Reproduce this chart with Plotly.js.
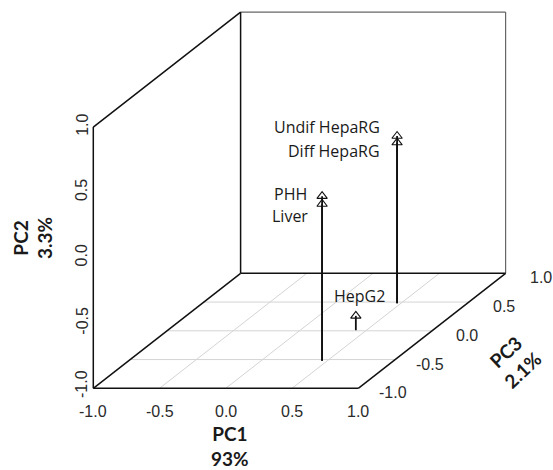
<!DOCTYPE html>
<html>
<head>
<meta charset="utf-8">
<script src="https://cdn.plot.ly/plotly-3.0.1.min.js"></script>
<style>html,body{margin:0;padding:0;background:#fff;}#chart{width:553px;height:470px;}</style>
</head>
<body>
<div id="chart"></div>
<script>
// ---- data ----
const samples = ['Undif HepaRG', 'Diff HepaRG', 'PHH', 'Liver', 'HepG2'];
const pc1 = [0.47, 0.47, 0.46, 0.46, 0.42];
const pc2 = [0.28, 0.23, 0.26, 0.20, -0.89];
const pc3 = [0.48, 0.48, -0.52, -0.52, 0.01];
const tickValues = [-1, -0.5, 0, 0.5, 1];
const tickLabels = ['-1.0', '-0.5', '0.0', '0.5', '1.0'];
const axisTitles = ['PC1<br>93%', 'PC2<br>3.3%', 'PC3<br>2.1%'];

// ---- oblique projection (scatterplot3d style) ----
const X0 = 93.3, Y0 = 388.3, SX = 132.5, SZ = 130.6, DX = 73.65, DY = 57.5;
const px = (x, y) => X0 + (x + 1) * SX + (y + 1) * DX;
const py = (y, z) => Y0 - (z + 1) * SZ - (y + 1) * DY;
function seg(arrX, arrY, a, b) { // a,b = [x,y,z]
  arrX.push(px(a[0], a[1]), px(b[0], b[1]), null);
  arrY.push(py(a[1], a[2]), py(b[1], b[2]), null);
}
const lo = tickValues[0], hi = tickValues[tickValues.length - 1];

// grid on floor
const gx = [], gy = [];
tickValues.slice(1, -1).forEach(v => {
  seg(gx, gy, [v, lo, lo], [v, hi, lo]);
  seg(gx, gy, [lo, v, lo], [hi, v, lo]);
});
// dark box edges
const bx = [], by = [];
seg(bx, by, [lo, lo, lo], [lo, lo, hi]);
seg(bx, by, [lo, lo, lo], [hi, lo, lo]);
seg(bx, by, [lo, lo, hi], [lo, hi, hi]);
seg(bx, by, [lo, lo, lo], [lo, hi, lo]);
seg(bx, by, [lo, hi, lo], [lo, hi, hi]);
seg(bx, by, [lo, hi, lo], [hi, hi, lo]);
seg(bx, by, [hi, lo, lo], [hi, hi, lo]);
// lighter back edges
const ex = [], ey = [];
seg(ex, ey, [lo, hi, hi], [hi, hi, hi]);
seg(ex, ey, [hi, hi, lo], [hi, hi, hi]);
// drop lines
const dx = [], dy = [];
samples.forEach((s, i) => seg(dx, dy, [pc1[i], pc3[i], lo], [pc1[i], pc3[i], pc2[i]]));

const traces = [
  {x: gx, y: gy, mode: 'lines', line: {color: '#d4d4d4', width: 1}, hoverinfo: 'skip'},
  {x: ex, y: ey, mode: 'lines', line: {color: '#666', width: 1.2}, hoverinfo: 'skip'},
  {x: bx, y: by, mode: 'lines', line: {color: '#111', width: 1.5}, hoverinfo: 'skip'},
  {x: dx, y: dy, mode: 'lines', line: {color: '#111', width: 1.8}, hoverinfo: 'skip'},
  {x: samples.map((s, i) => px(pc1[i], pc3[i])), y: samples.map((s, i) => py(pc3[i], pc2[i])),
   mode: 'markers', marker: {symbol: 'triangle-up-open', size: 9, color: '#111', line: {width: 1.1}},
   text: samples, hoverinfo: 'text'}
];

const ann = [];
// sample labels (style offsets)
const labelStyle = [
  {xanchor: 'right', xs: -15, ys: 9},
  {xanchor: 'right', xs: -15, ys: -8},
  {xanchor: 'right', xs: -13, ys: 2},
  {xanchor: 'right', xs: -12, ys: -12},
  {xanchor: 'center', xs: 4, ys: 20}
];
samples.forEach((s, i) => {
  const st = labelStyle[i];
  ann.push({x: px(pc1[i], pc3[i]), y: py(pc3[i], pc2[i]), text: s, showarrow: false,
    xanchor: st.xanchor, yanchor: 'middle', xshift: st.xs, yshift: st.ys,
    font: {family: 'Open Sans', size: 16, color: '#1a1a1a'}});
});
const tickFont = {family: 'Liberation Sans, Arial', size: 16, color: '#2a2a2a'};
tickValues.forEach((v, i) => {
  // PC1 ticks
  ann.push({x: px(v, lo), y: py(lo, lo), text: tickLabels[i], showarrow: false,
    xanchor: 'center', yanchor: 'middle', yshift: -23.5, font: tickFont});
  // PC2 ticks
  ann.push({x: px(lo, lo), y: py(lo, v), text: tickLabels[i], showarrow: false, textangle: -90,
    xanchor: 'center', yanchor: 'middle', xshift: -11.6, yshift: (i === 0 ? 4 : 2), font: tickFont});
  // PC3 ticks
  ann.push({x: px(hi, v), y: py(v, lo), text: tickLabels[i], showarrow: false,
    xanchor: 'center', yanchor: 'middle', xshift: 35, yshift: -4.5, font: tickFont});
});
const titleFont = {family: 'Lato, DejaVu Sans', size: 19, color: '#1a1a1a'};
ann.push({x: px(0, lo), y: py(lo, lo), text: '<b>' + axisTitles[0].replace('<br>', '</b><br><b>') + '</b>',
  showarrow: false, xanchor: 'center', yanchor: 'middle', xshift: 4, yshift: -58, font: titleFont});
ann.push({x: px(lo, lo), y: py(lo, 0), text: '<b>' + axisTitles[1].replace('<br>', '</b><br><b>') + '</b>',
  showarrow: false, textangle: -90, xanchor: 'center', yanchor: 'middle', xshift: -61, yshift: 20, font: titleFont});
ann.push({x: px(hi, 0), y: py(0, lo), text: '<b>' + axisTitles[2].replace('<br>', '</b><br><b>') + '</b>',
  showarrow: false, textangle: -43, xanchor: 'center', yanchor: 'middle', xshift: 82, yshift: -30, font: titleFont});

const layout = {
  width: 553, height: 470,
  margin: {l: 0, r: 0, t: 0, b: 0},
  paper_bgcolor: '#fff', plot_bgcolor: '#fff',
  showlegend: false,
  xaxis: {range: [0, 553], visible: false, fixedrange: true},
  yaxis: {range: [470, 0], visible: false, fixedrange: true},
  annotations: ann
};
Plotly.newPlot('chart', traces, layout, {displayModeBar: false, staticPlot: true});
</script>
</body>
</html>
